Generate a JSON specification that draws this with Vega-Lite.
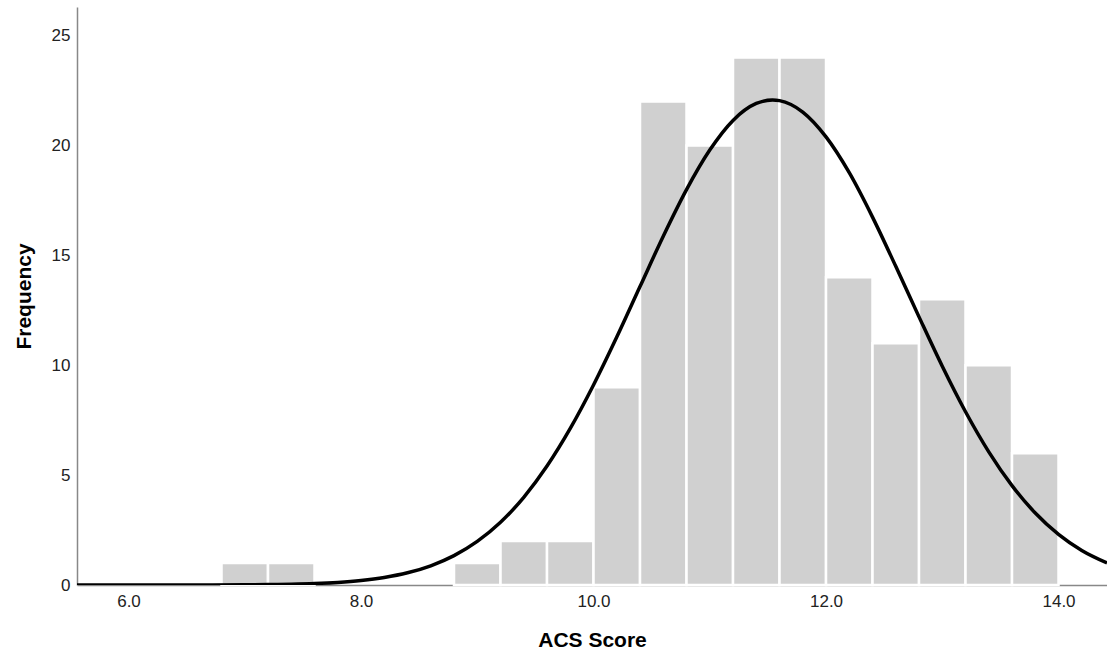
{
  "$schema": "https://vega.github.io/schema/vega-lite/v6.json",
  "width": 1030,
  "height": 578,
  "autosize": {"type": "none"},
  "padding": {"left": 77, "top": 7, "right": 0, "bottom": 73},
  "background": "white",
  "config": {
    "view": {"stroke": null},
    "font": "Liberation Sans",
    "axis": {
      "grid": false,
      "ticks": false,
      "domainColor": "#888888",
      "domainWidth": 1.5,
      "labelFont": "Liberation Sans",
      "labelFontSize": 17,
      "labelColor": "#222222",
      "titleFont": "Liberation Sans",
      "titleFontSize": 21,
      "titleFontWeight": "bold",
      "titleColor": "#000000"
    }
  },
  "datasets": {
    "bins": [
      {"start": 6.8, "end": 7.2, "count": 1},
      {"start": 7.2, "end": 7.6, "count": 1},
      {"start": 8.8, "end": 9.2, "count": 1},
      {"start": 9.2, "end": 9.6, "count": 2},
      {"start": 9.6, "end": 10.0, "count": 2},
      {"start": 10.0, "end": 10.4, "count": 9},
      {"start": 10.4, "end": 10.8, "count": 22},
      {"start": 10.8, "end": 11.2, "count": 20},
      {"start": 11.2, "end": 11.6, "count": 24},
      {"start": 11.6, "end": 12.0, "count": 24},
      {"start": 12.0, "end": 12.4, "count": 14},
      {"start": 12.4, "end": 12.8, "count": 11},
      {"start": 12.8, "end": 13.2, "count": 13},
      {"start": 13.2, "end": 13.6, "count": 10},
      {"start": 13.6, "end": 14.0, "count": 6}
    ],
    "curve": [
      {"x": 5.557, "y": 0.0},
      {"x": 6.0, "y": 0.0002},
      {"x": 6.5, "y": 0.0017},
      {"x": 7.0, "y": 0.010},
      {"x": 7.2, "y": 0.019},
      {"x": 7.4, "y": 0.037},
      {"x": 7.6, "y": 0.067},
      {"x": 7.8, "y": 0.119},
      {"x": 8.0, "y": 0.205},
      {"x": 8.2, "y": 0.342},
      {"x": 8.4, "y": 0.555},
      {"x": 8.6, "y": 0.874},
      {"x": 8.8, "y": 1.336},
      {"x": 9.0, "y": 1.982},
      {"x": 9.2, "y": 2.854},
      {"x": 9.4, "y": 3.988},
      {"x": 9.6, "y": 5.41},
      {"x": 9.8, "y": 7.122},
      {"x": 10.0, "y": 9.099},
      {"x": 10.2, "y": 11.28},
      {"x": 10.4, "y": 13.58},
      {"x": 10.6, "y": 15.87},
      {"x": 10.8, "y": 17.99},
      {"x": 11.0, "y": 19.79},
      {"x": 11.2, "y": 21.14},
      {"x": 11.4, "y": 21.91},
      {"x": 11.54, "y": 22.07},
      {"x": 11.6, "y": 22.04},
      {"x": 11.8, "y": 21.52},
      {"x": 12.0, "y": 20.39},
      {"x": 12.2, "y": 18.76},
      {"x": 12.4, "y": 16.74},
      {"x": 12.6, "y": 14.5},
      {"x": 12.8, "y": 12.2},
      {"x": 13.0, "y": 9.954},
      {"x": 13.2, "y": 7.884},
      {"x": 13.4, "y": 6.06},
      {"x": 13.6, "y": 4.522},
      {"x": 13.8, "y": 3.275},
      {"x": 14.0, "y": 2.302},
      {"x": 14.2, "y": 1.57},
      {"x": 14.417, "y": 1.002}
    ]
  },
  "layer": [
    {
      "data": {"name": "bins"},
      "mark": {"type": "bar", "color": "#d0d0d0", "stroke": "white", "strokeWidth": 2.5},
      "encoding": {
        "x": {
          "field": "start",
          "type": "quantitative",
          "scale": {"domain": [5.557, 14.417], "nice": false, "zero": false},
          "axis": {
            "title": "ACS Score",
            "values": [6, 8, 10, 12, 14],
            "format": ".1f",
            "labelPadding": 8,
            "titlePadding": 20
          }
        },
        "x2": {"field": "end"},
        "y": {
          "field": "count",
          "type": "quantitative",
          "scale": {"domain": [0, 26.3], "nice": false},
          "axis": {
            "title": "Frequency",
            "values": [0, 5, 10, 15, 20, 25],
            "labelPadding": 7,
            "titlePadding": 17
          }
        },
        "y2": {"datum": 0}
      }
    },
    {
      "data": {"name": "curve"},
      "mark": {"type": "line", "color": "#000000", "strokeWidth": 3.5, "interpolate": "monotone", "clip": true},
      "encoding": {
        "x": {"field": "x", "type": "quantitative"},
        "y": {"field": "y", "type": "quantitative"}
      }
    }
  ]
}
